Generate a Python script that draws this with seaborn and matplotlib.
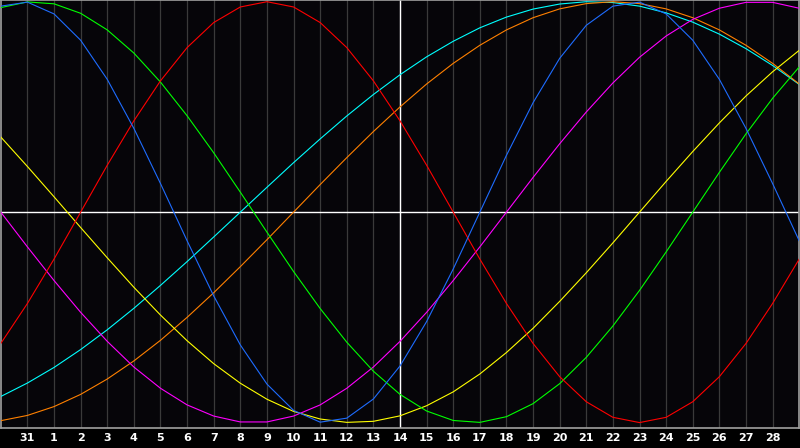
import pandas as pd
import seaborn as sns
import matplotlib.pyplot as plt

# Data: one value per day (index 0 = Jan 30 ... 30 = Mar 1)
hari = list(range(31))
tick_pos = list(range(1, 30))
tick_label = ['31'] + [str(d) for d in range(1, 29)]
hari_ini = 15  # garis putih "today" (tanggal 14)

fisik = [0.979, 0.998, 0.942, 0.817, 0.631, 0.398, 0.136, -0.136, -0.398, -0.631,
         -0.817, -0.942, -0.998, -0.979, -0.888, -0.731, -0.520, -0.270, 0.0, 0.270,
         0.520, 0.731, 0.888, 0.979, 0.998, 0.942, 0.817, 0.631, 0.398, 0.136, -0.136]
emosi = [-0.624, -0.434, -0.223, 0.0, 0.223, 0.434, 0.624, 0.782, 0.901, 0.975,
         1.0, 0.975, 0.901, 0.782, 0.624, 0.434, 0.223, 0.0, -0.223, -0.434,
         -0.624, -0.782, -0.901, -0.975, -1.0, -0.975, -0.901, -0.782, -0.624, -0.434, -0.223]
intelek = [0.972, 0.999, 0.990, 0.945, 0.866, 0.756, 0.618, 0.458, 0.282, 0.095,
           -0.095, -0.282, -0.458, -0.618, -0.756, -0.866, -0.945, -0.990, -0.999, -0.972,
           -0.910, -0.815, -0.690, -0.541, -0.372, -0.189, 0.0, 0.189, 0.372, 0.541, 0.690]
intuisi = [0.0, -0.165, -0.325, -0.476, -0.614, -0.736, -0.837, -0.916, -0.969, -0.997,
           -0.997, -0.969, -0.916, -0.837, -0.736, -0.614, -0.476, -0.325, -0.165, 0.0,
           0.165, 0.325, 0.476, 0.614, 0.736, 0.837, 0.916, 0.969, 0.997, 0.997, 0.969]
estetika = [0.357, 0.217, 0.073, -0.073, -0.217, -0.357, -0.489, -0.611, -0.720, -0.813,
            -0.889, -0.947, -0.983, -0.999, -0.994, -0.968, -0.920, -0.854, -0.769, -0.667,
            -0.552, -0.424, -0.288, -0.146, 0.0, 0.146, 0.288, 0.424, 0.552, 0.667, 0.769]
kesadaran = [-0.991, -0.966, -0.924, -0.866, -0.793, -0.707, -0.609, -0.500, -0.383, -0.259,
             -0.131, 0.0, 0.131, 0.259, 0.383, 0.500, 0.609, 0.707, 0.793, 0.866,
             0.924, 0.966, 0.991, 1.0, 0.991, 0.966, 0.924, 0.866, 0.793, 0.707, 0.609]
spiritual = [-0.876, -0.812, -0.738, -0.653, -0.559, -0.457, -0.348, -0.235, -0.118, 0.0,
             0.118, 0.235, 0.348, 0.457, 0.559, 0.653, 0.738, 0.812, 0.876, 0.927,
             0.965, 0.989, 1.0, 0.996, 0.979, 0.947, 0.903, 0.846, 0.777, 0.697, 0.607]

warna = {
    'spiritual': '#00ffff',
    'kesadaran': '#ff8000',
    'estetika': '#ffff00',
    'intuisi': '#ff00ff',
    'intelek': '#00ff00',
    'emosi': '#ff0000',
    'fisik': '#1e6cff',
}

wide = pd.DataFrame({
    'hari': hari, 'spiritual': spiritual, 'kesadaran': kesadaran,
    'estetika': estetika, 'intuisi': intuisi, 'intelek': intelek,
    'emosi': emosi, 'fisik': fisik,
})
df = wide.melt(id_vars='hari', var_name='siklus', value_name='nilai')

sns.set_theme(style="dark")
plt.rcParams['font.family'] = ['DejaVu Sans']

fig = plt.figure(figsize=(8, 4.48), dpi=100, facecolor='#000000')
ax = fig.add_axes([0.001, 0.045, 0.998, 0.954])
ax.set_facecolor('#060509')

# grid + reference lines
ax.set_xticks(tick_pos)
ax.set_xticklabels(tick_label)
ax.grid(axis='x', color='#3a3a3a', linewidth=0.9)
ax.grid(axis='y', visible=False)
ax.axhline(0, color='white', linewidth=1.0, zorder=1)
ax.axvline(hari_ini, color='white', linewidth=1.0, zorder=1)

sns.lineplot(data=df, x='hari', y='nilai', hue='siklus',
             hue_order=list(warna.keys()), palette=warna,
             linewidth=0.8, legend=False, ax=ax, zorder=3)

ax.set_xlim(0, 30)
ax.set_ylim(-1.025, 1.006)
ax.set_yticks([])
ax.set_xlabel('')
ax.set_ylabel('')
ax.tick_params(axis='x', length=0, pad=4, labelsize=8, labelcolor='white')
for lbl in ax.get_xticklabels():
    lbl.set_fontweight('bold')
for sp in ax.spines.values():
    sp.set_visible(True)
    sp.set_color('#a0a0a0')
    sp.set_linewidth(1.2)

fig.savefig('out.png', dpi=100, facecolor=fig.get_facecolor())
